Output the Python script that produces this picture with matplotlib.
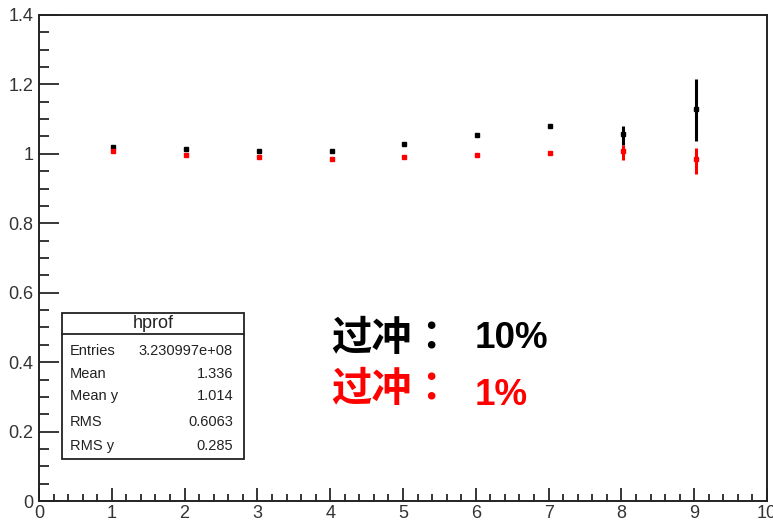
import matplotlib
matplotlib.use("Agg")
import matplotlib.pyplot as plt
from matplotlib.patches import Rectangle
from matplotlib.lines import Line2D
from matplotlib.ticker import MultipleLocator

# profile points: overshoot 10% (black) and 1% (red)
x_pos = [1.02, 2.02, 3.02, 4.02, 5.02, 6.02, 7.02, 8.02, 9.02]
y_10 = [1.019, 1.014, 1.008, 1.008, 1.029, 1.055, 1.079, 1.058, 1.129]
err_10_lo = [0.002, 0.002, 0.002, 0.002, 0.002, 0.003, 0.004, 0.032, 0.093]
err_10_hi = [0.002, 0.002, 0.002, 0.002, 0.002, 0.003, 0.004, 0.021, 0.087]
y_1 = [1.009, 0.997, 0.990, 0.985, 0.990, 0.997, 1.002, 1.007, 0.985]
err_1_lo = [0.002, 0.002, 0.002, 0.002, 0.002, 0.002, 0.003, 0.026, 0.043]
err_1_hi = [0.002, 0.002, 0.002, 0.002, 0.002, 0.002, 0.003, 0.019, 0.031]

stat_names = ["Entries", "Mean", "Mean y", "RMS", "RMS y"]
stat_values = ["3.230997e+08", "1.336", "1.014", "0.6063", "0.285"]

label_cn = "过冲："
label_10 = "10%"
label_1 = "1%"

plt.rcParams['font.family'] = ['Liberation Sans', 'Noto Sans CJK TC']

fig = plt.figure(figsize=(7.73, 5.22), dpi=100)
ax = fig.add_axes([39 / 773, 1 - 501 / 522, 728 / 773, 486 / 522])

ax.errorbar(x_pos, y_10, yerr=[err_10_lo, err_10_hi], fmt='s', color='black',
            ms=3.2, elinewidth=2.2, capsize=0, zorder=3)
ax.errorbar(x_pos, y_1, yerr=[err_1_lo, err_1_hi], fmt='s', color='red',
            ms=2.8, elinewidth=2.2, capsize=0, zorder=4)

ax.set_xlim(0, 10)
ax.set_ylim(0, 1.4)
ax.xaxis.set_major_locator(MultipleLocator(1))
ax.xaxis.set_minor_locator(MultipleLocator(0.2))
ax.yaxis.set_major_locator(MultipleLocator(0.2))
ax.yaxis.set_minor_locator(MultipleLocator(0.05))
ax.yaxis.set_major_formatter(lambda v, p: f"{v:g}")
ax.xaxis.set_major_formatter(lambda v, p: f"{v:g}")

ax.tick_params(axis='both', which='both', direction='in', top=False, right=False,
               width=1.1, color='black', labelsize=13, labelcolor='#333333')
ax.tick_params(axis='x', which='major', length=9.5, pad=3)
ax.tick_params(axis='x', which='minor', length=5)
ax.tick_params(axis='y', which='major', length=14.5, pad=4)
ax.tick_params(axis='y', which='minor', length=7.2)
for sp in ax.spines.values():
    sp.set_linewidth(1.4)
    sp.set_color('#222222')

# lift the y-axis "0" so it does not collide with the x-axis "0"
fig.canvas.draw()
ax.get_yticklabels()[0].set_y(0.018)

# statistics box
box = Rectangle((0.0316, 0.0864), 0.25, 0.301, transform=ax.transAxes,
                facecolor='white', edgecolor='#222222', lw=1.3, zorder=5)
ax.add_patch(box)
ax.add_line(Line2D([0.0316, 0.2816], [0.3436, 0.3436], transform=ax.transAxes,
                   color='#222222', lw=1.3, zorder=6))
ax.text(0.1566, 0.366, "hprof", transform=ax.transAxes, ha='center', va='center',
        fontsize=13, color='#222222', zorder=6)
row_y = [0.3086, 0.2613, 0.216, 0.1626, 0.113]
for name, val, yy in zip(stat_names, stat_values, row_y):
    ax.text(0.0426, yy, name, transform=ax.transAxes, ha='left', va='center',
            fontsize=10.5, color='#222222', zorder=6)
    ax.text(0.2665, yy, val, transform=ax.transAxes, ha='right', va='center',
            fontsize=10.5, color='#222222', zorder=6)

# overshoot labels
ax.text(4.02, 0.469, label_cn, ha='left', va='center', fontsize=29,
        fontweight='bold', color='black', family=['Noto Sans CJK TC'])
ax.text(5.99, 0.441, label_10, ha='left', va='baseline', fontsize=26.5,
        fontweight='bold', color='black')
ax.text(4.02, 0.322, label_cn, ha='left', va='center', fontsize=29,
        fontweight='bold', color='red', family=['Noto Sans CJK TC'])
ax.text(5.99, 0.277, label_1, ha='left', va='baseline', fontsize=26.5,
        fontweight='bold', color='red')

fig.savefig("out.png", dpi=100)
